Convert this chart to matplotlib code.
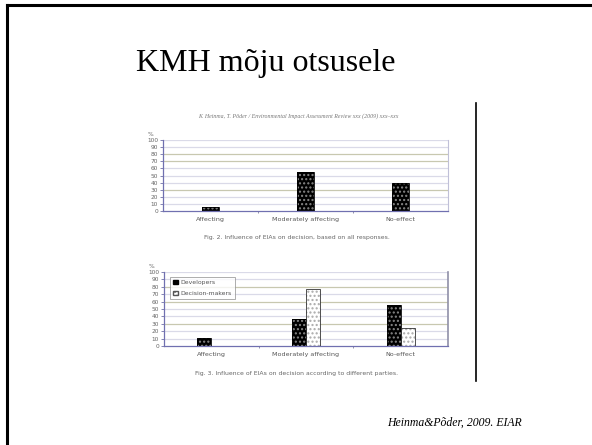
import matplotlib

matplotlib.use("Agg")
import matplotlib.pyplot as plt
import numpy as np

W, H = 592, 445

title = "KMH mõju otsusele"
source = "Heinma&Põder, 2009. EIAR"
header = "K. Heinma, T. Põder / Environmental Impact Assessment Review xxx (2009) xxx–xxx"
cap2 = "Fig. 2. Influence of EIAs on decision, based on all responses."
cap3 = "Fig. 3. Influence of EIAs on decision according to different parties."

categories = ["Affecting", "Moderately affecting", "No-effect"]
all_responses = [5, 55, 40]
developers = [11, 36, 56]
decision_makers = [0, 77, 24]
yticks = list(range(0, 101, 10))

plt.rcParams["font.family"] = ["Liberation Serif", "DejaVu Serif"]
fig = plt.figure(figsize=(W / 100, H / 100), dpi=100)


def px_axes(left, right, top, bottom):
    return fig.add_axes([left / W, 1 - bottom / H, (right - left) / W, (bottom - top) / H])


def style(ax, dark_levels):
    ax.set_xlim(-0.5, 2.5)
    ax.set_ylim(0, 100)
    ax.set_yticks(yticks)
    ax.set_yticklabels([str(t) for t in yticks], fontsize=4.2, color="#666666",
                       family="DejaVu Sans")
    ax.set_xticks([0.5, 1.5])
    ax.set_xticklabels([])
    ax.tick_params(axis="y", length=2.5, width=0.6, color="#7070a8", pad=1)
    ax.tick_params(axis="x", length=1.5, width=0.6, color="#8080a0")
    for t in yticks[1:]:
        c = "#c8c8b0" if t in dark_levels else "#dadae8"
        ax.axhline(t, color=c, lw=0.9, zorder=0)
    for s in ("left", "bottom"):
        ax.spines[s].set_color("#7070b0")
        ax.spines[s].set_linewidth(0.9)
    ax.spines["top"].set_visible(False)
    ax.spines["right"].set_color("#9090a8")
    for i, c in enumerate(categories):
        ax.text(i, -8, c, ha="center", va="top", fontsize=4.6, color="#555555",
                family="DejaVu Sans")
    ax.text(-0.63, 104, "%", ha="center", va="bottom", fontsize=4.2, color="#666666",
            family="DejaVu Sans")


def dark_bar(ax, x, h, w):
    ax.bar(x, h, w, color="black", edgecolor="#888888", hatch="....", lw=0, zorder=2)
    ax.bar(x, h, w, fill=False, edgecolor="black", lw=0.6, zorder=3)


def light_bar(ax, x, h, w):
    ax.bar(x, h, w, color="white", edgecolor="#aaaaaa", hatch="....", lw=0, zorder=2)
    ax.bar(x, h, w, fill=False, edgecolor="#333333", lw=0.6, zorder=3)


x = np.arange(len(categories))

ax1 = px_axes(163, 448, 140, 211)
style(ax1, dark_levels=[80, 70, 30])
ax1.spines["right"].set_color("#c0c0d8")
dark_bar(ax1, x, all_responses, 0.18)

ax2 = px_axes(164, 448, 272, 346)
style(ax2, dark_levels=[80, 60, 30])
ax2.spines["right"].set_linewidth(1.2)
dark_bar(ax2, x - 0.074, developers, 0.147)
light_bar(ax2, x + 0.074, decision_makers, 0.147)

# legend box
lg = [plt.Rectangle((0, 0), 1, 1, facecolor="black", edgecolor="black", hatch="...."),
      plt.Rectangle((0, 0), 1, 1, facecolor="white", edgecolor="#555555", hatch="....")]
leg = ax2.legend(lg, ["Developers", "Decision-makers"], loc="upper left",
                 bbox_to_anchor=(0.01, 0.98), fontsize=4.4, frameon=True, fancybox=False,
                 edgecolor="#888888", handlelength=0.8, handleheight=0.8, borderpad=0.5,
                 labelspacing=0.9, handletextpad=0.4,
                 prop={"family": "DejaVu Sans", "size": 4.4})
leg.get_frame().set_linewidth(0.6)
for t in leg.get_texts():
    t.set_color("#555555")

# slide text
fig.text(266 / W, 1 - 63 / H, title, ha="center", va="center", fontsize=23)
fig.text(298 / W, 1 - 116 / H, header, ha="center", va="center", fontsize=4.2,
         style="italic", color="#777777")
fig.text(297 / W, 1 - 237 / H, cap2, ha="center", va="center", fontsize=4.4, color="#666666",
         family="DejaVu Sans")
fig.text(297 / W, 1 - 373 / H, cap3, ha="center", va="center", fontsize=4.4, color="#666666",
         family="DejaVu Sans")
fig.text(454 / W, 1 - 423 / H, source, ha="center", va="center", fontsize=8.5, style="italic")

# slide border (left and top) and separator line
fig.add_artist(plt.Line2D([7 / W, 7 / W], [0, 1 - 5 / H], color="black", lw=2.2))
fig.add_artist(plt.Line2D([7 / W, 1], [1 - 5 / H, 1 - 5 / H], color="black", lw=2.2))
fig.add_artist(plt.Line2D([476 / W, 476 / W], [1 - 103 / H, 1 - 381 / H], color="black", lw=1.2))

fig.savefig("out.png", dpi=100)
